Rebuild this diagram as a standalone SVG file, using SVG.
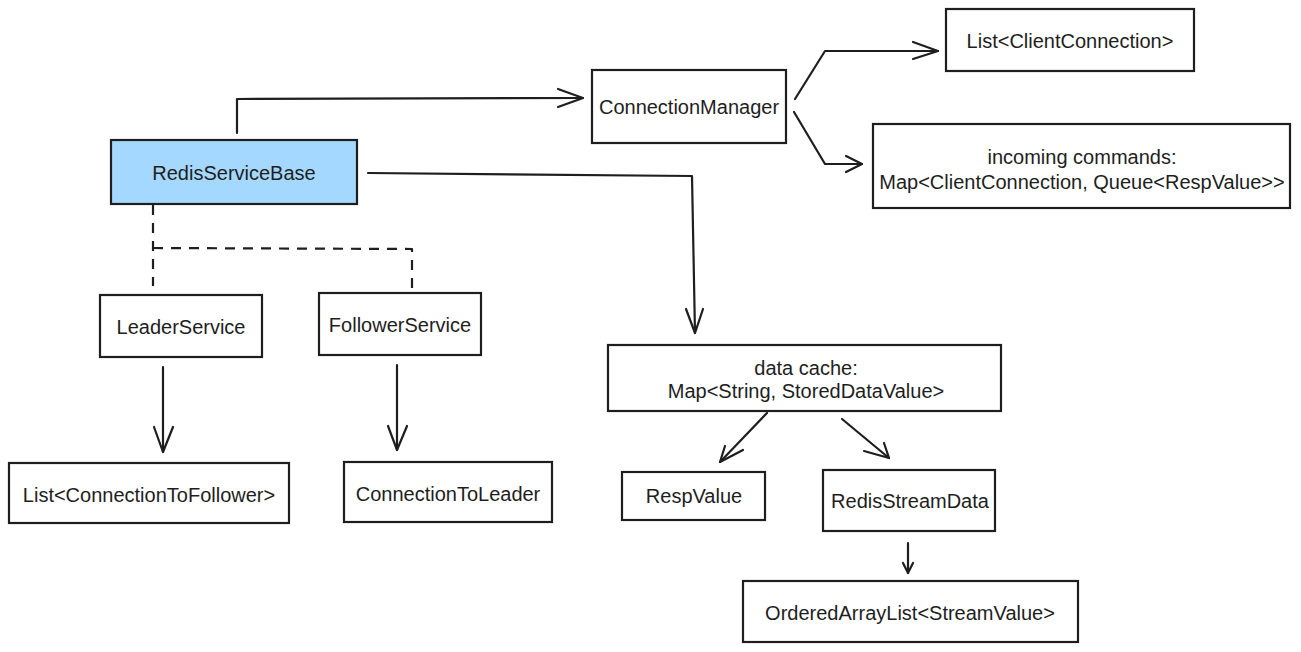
<svg xmlns="http://www.w3.org/2000/svg" width="1301" height="652" viewBox="0 0 1301 652">
<style>
.box{fill:#ffffff;stroke:#1e1e1e;stroke-width:2.2}
.hl{fill:#a5d8ff}
text{font-family:"Liberation Sans",Arial,Helvetica,sans-serif;font-size:20px;fill:#1e1e1e;text-anchor:middle;dominant-baseline:central}
.c{fill:none;stroke:#1e1e1e;stroke-width:2.2;stroke-linecap:round;stroke-linejoin:round}
.d{stroke-dasharray:10 8;stroke-linecap:butt}
</style>
<rect width="1301" height="652" fill="#ffffff"/>
<g id="connectors">
<path class="c" d="M237 133 L237 99 L583 98"/>
<path class="c" d="M558 89 L583 98 L558 107"/>
<path class="c" d="M368 173 L692 176 L695 333"/>
<path class="c" d="M686 309 L695 333 L703 309"/>
<path class="c d" d="M153 205 L153 286"/>
<path class="c d" d="M153 248 L412 249 L412 292"/>
<path class="c" d="M795 99 L825 51 L938 51"/>
<path class="c" d="M913 42 L938 51 L913 59"/>
<path class="c" d="M794 112 L825 164 L862 164"/>
<path class="c" d="M846 156 L862 164 L846 172"/>
<path class="c" d="M163 367 L163 452"/>
<path class="c" d="M154 427 L163 452 L173 427"/>
<path class="c" d="M397 365 L397 450"/>
<path class="c" d="M388 426 L397 450 L407 426"/>
<path class="c" d="M767 413 L720 462"/>
<path class="c" d="M725 446 L720 462 L743 450"/>
<path class="c" d="M842 419 L889 458"/>
<path class="c" d="M884 443 L889 458 L864 451"/>
<path class="c" d="M908 543 L908 573"/>
<path class="c" d="M903 563 L908 573 L913 563"/>
</g>
<g id="RedisServiceBase"><rect class="box hl" x="111" y="140" width="246" height="64"/><text x="234" y="173">RedisServiceBase</text></g>
<g id="ConnectionManager"><rect class="box" x="592" y="70" width="194" height="73"/><text x="689" y="107">ConnectionManager</text></g>
<g id="ClientConnectionList"><rect class="box" x="946" y="9" width="248" height="62"/><text x="1070" y="41">List&lt;ClientConnection&gt;</text></g>
<g id="IncomingCommands"><rect class="box" x="873" y="124" width="417" height="84"/><text x="1082" y="157">incoming commands:</text><text x="1082" y="182">Map&lt;ClientConnection, Queue&lt;RespValue&gt;&gt;</text></g>
<g id="LeaderService"><rect class="box" x="100" y="295" width="162" height="62"/><text x="181" y="327">LeaderService</text></g>
<g id="FollowerService"><rect class="box" x="319" y="293" width="162" height="62"/><text x="400" y="325">FollowerService</text></g>
<g id="ConnectionToFollowerList"><rect class="box" x="9" y="463" width="280" height="60"/><text x="149" y="495">List&lt;ConnectionToFollower&gt;</text></g>
<g id="ConnectionToLeader"><rect class="box" x="344" y="462" width="208" height="60"/><text x="448" y="494">ConnectionToLeader</text></g>
<g id="DataCache"><rect class="box" x="608" y="345" width="393" height="66"/><text x="806" y="368">data cache:</text><text x="806" y="391">Map&lt;String, StoredDataValue&gt;</text></g>
<g id="RespValue"><rect class="box" x="622" y="472" width="143" height="48"/><text x="694" y="496">RespValue</text></g>
<g id="RedisStreamData"><rect class="box" x="823" y="470" width="172" height="61"/><text x="910" y="501">RedisStreamData</text></g>
<g id="OrderedArrayList"><rect class="box" x="743" y="581" width="335" height="61"/><text x="910" y="613">OrderedArrayList&lt;StreamValue&gt;</text></g>
</svg>
